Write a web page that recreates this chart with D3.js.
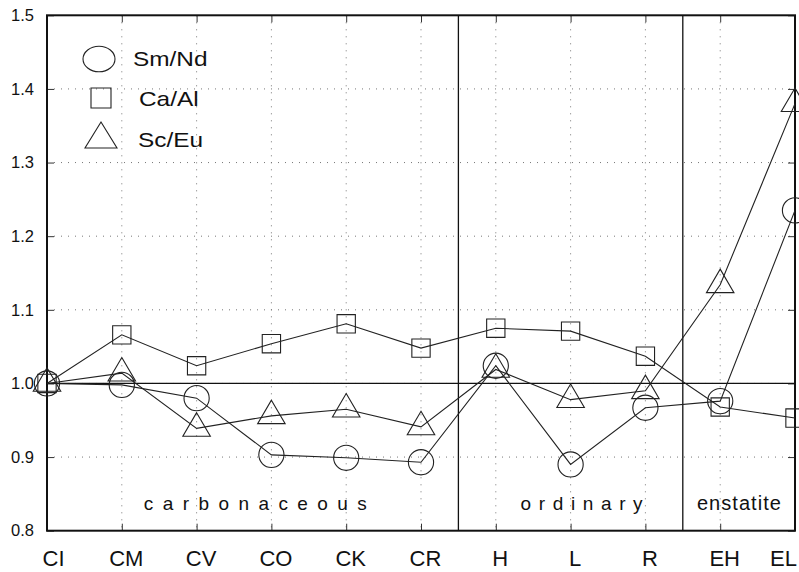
<!DOCTYPE html>
<html>
<head>
<meta charset="utf-8">
<script src="https://cdn.jsdelivr.net/npm/d3@7"></script>
<style>
  body { margin: 0; background: #fff; }
  svg { display: block; font-family: "Liberation Sans", Arial, sans-serif; }
</style>
</head>
<body>
<div id="chart"></div>
<script>
// ---- data ----
const categories = ["CI", "CM", "CV", "CO", "CK", "CR", "H", "L", "R", "EH", "EL"];
const smNd = [1.000, 0.998, 0.980, 0.903, 0.899, 0.893, 1.024, 0.890, 0.967, 0.976, 1.235];
const caAl = [1.000, 1.066, 1.024, 1.054, 1.081, 1.048, 1.075, 1.071, 1.037, 0.968, 0.953];
const scEu = [1.000, 1.014, 0.939, 0.956, 0.965, 0.941, 1.019, 0.978, 0.990, 1.134, 1.380];
const yTicks = [0.8, 0.9, 1.0, 1.1, 1.2, 1.3, 1.4, 1.5];
const seriesNames = ["Sm/Nd", "Ca/Al", "Sc/Eu"];
const groupNames = ["carbonaceous", "ordinary", "enstatite"];
const groupEnds = [["CI", "CR"], ["CR", "R"], ["R", "EL"]];

// ---- canvas ----
const width = 799, height = 572;
const plot = {left: 47, right: 795, top: 15.3, bottom: 530.7};

const svg = d3.select("#chart").append("svg")
  .attr("width", width).attr("height", height);

const x = d3.scalePoint().domain(categories).range([plot.left, plot.right]);
const y = d3.scaleLinear().domain([0.8, 1.5]).range([plot.bottom, plot.top]);

// ---- grid ----
const grid = svg.append("g").attr("stroke", "#777").attr("stroke-width", 1)
  .attr("stroke-dasharray", "1,6");
grid.selectAll(".gy").data(yTicks.slice(1, -1)).join("line")
  .attr("x1", plot.left).attr("x2", plot.right)
  .attr("y1", d => y(d)).attr("y2", d => y(d));
grid.selectAll(".gx").data(categories.slice(1, -1)).join("line")
  .attr("x1", d => x(d)).attr("x2", d => x(d))
  .attr("y1", plot.top).attr("y2", plot.bottom);

// ---- axes (ticks inward) ----
svg.append("g").attr("transform", `translate(${plot.left},0)`)
  .call(d3.axisLeft(y).tickValues(yTicks).tickSize(-7).tickPadding(13)
    .tickFormat(d3.format(".1f")))
  .call(g => g.select(".domain").remove())
  .call(g => g.selectAll("text").attr("font-size", 16.5).attr("fill", "#111")
    .attr("font-family", "Liberation Sans, Arial, sans-serif"));

svg.append("g").attr("transform", `translate(${plot.right},0)`)
  .call(d3.axisRight(y).tickValues(yTicks).tickSize(-7).tickFormat(""))
  .call(g => g.select(".domain").remove());

svg.append("g").attr("transform", `translate(0,${plot.bottom})`)
  .call(d3.axisBottom(x).tickSize(-7).tickPadding(20))
  .call(g => g.select(".domain").remove())
  .call(g => g.selectAll("text").attr("font-size", 22).attr("fill", "#111")
    .attr("font-family", "Liberation Sans, Arial, sans-serif")
    .attr("dx", (d, i) => i === 0 ? 6 : (i === categories.length - 1 ? -12 : 4)));

svg.append("g").attr("transform", `translate(0,${plot.top})`)
  .call(d3.axisTop(x).tickSize(-7).tickFormat(""))
  .call(g => g.select(".domain").remove());

svg.selectAll(".tick line").attr("stroke", "#333");

// ---- reference line and separators ----
svg.append("line")
  .attr("x1", plot.left).attr("x2", plot.right).attr("y1", y(1.0)).attr("y2", y(1.0))
  .attr("stroke", "#111").attr("stroke-width", 1.3);

const step = x.step();
const seps = [x("CR") + step / 2, x("R") + step / 2];
svg.selectAll(".sep").data(seps).join("line")
  .attr("x1", d => d).attr("x2", d => d).attr("y1", plot.top).attr("y2", plot.bottom)
  .attr("stroke", "#111").attr("stroke-width", 1.3);

// frame
svg.append("rect")
  .attr("x", plot.left).attr("y", plot.top)
  .attr("width", plot.right - plot.left).attr("height", plot.bottom - plot.top)
  .attr("fill", "none").attr("stroke", "#111").attr("stroke-width", 2);

// ---- group labels ----
const groupX = groupEnds.map(([a, b], i) => {
  const x0 = i === 0 ? x(a) : x(a) + step / 2;
  const x1 = i === groupEnds.length - 1 ? x(b) : x(b) + step / 2;
  return (x0 + x1) / 2;
});
svg.selectAll(".grp").data(groupNames).join("text")
  .attr("x", (d, i) => groupX[i] + [2.6, 11, 0][i])
  .attr("y", 510)
  .attr("text-anchor", "middle")
  .attr("font-size", (d, i) => i < 2 ? 19 : 20)
  .attr("textLength", (d, i) => [223, 122, 84][i])
  .attr("lengthAdjust", "spacing")
  .attr("fill", "#111")
  .text(d => d);

// ---- markers ----
function circlePath(cx, cy, r) {
  return `M${cx - r},${cy}a${r},${r} 0 1,0 ${2 * r},0a${r},${r} 0 1,0 ${-2 * r},0Z`;
}
function squarePath(cx, cy, s) {
  return `M${cx - s / 2},${cy - s / 2}h${s}v${s}h${-s}Z`;
}
function trianglePath(cx, cy, w, h) {
  return `M${cx},${cy - h * 2 / 3}L${cx + w / 2},${cy + h / 3}L${cx - w / 2},${cy + h / 3}Z`;
}
const markers = [
  (cx, cy) => circlePath(cx, cy, 12.6),
  (cx, cy) => squarePath(cx, cy, 18.3),
  (cx, cy) => trianglePath(cx, cy, 27.5, 23.5)
];

const line = d3.line().x((d, i) => x(categories[i])).y(d => y(d));
[smNd, caAl, scEu].forEach((vals, k) => {
  svg.append("path").datum(vals)
    .attr("d", line).attr("fill", "none")
    .attr("stroke", "#222").attr("stroke-width", 1.1);
  svg.append("g").selectAll("path").data(vals).join("path")
    .attr("d", (d, i) => markers[k](x(categories[i]), y(d)))
    .attr("fill", "none").attr("stroke", "#222").attr("stroke-width", 1.1);
});

// ---- legend ----
const legend = svg.append("g");
legend.append("ellipse").attr("cx", 99).attr("cy", 59).attr("rx", 16).attr("ry", 12.8)
  .attr("fill", "none").attr("stroke", "#222").attr("stroke-width", 1.1);
legend.append("path").attr("d", squarePath(101, 98, 20))
  .attr("fill", "none").attr("stroke", "#222").attr("stroke-width", 1.1);
legend.append("path").attr("d", trianglePath(101, 139.3, 32, 26))
  .attr("fill", "none").attr("stroke", "#222").attr("stroke-width", 1.1);
const legendPos = [[133, 66], [139, 106], [138, 147]];
legend.selectAll("text").data(seriesNames).join("text")
  .attr("transform", (d, i) => `translate(${legendPos[i][0]},${legendPos[i][1]}) scale(1.22,1)`)
  .attr("font-size", 20).attr("fill", "#111")
  .text(d => d);
</script>
</body>
</html>
